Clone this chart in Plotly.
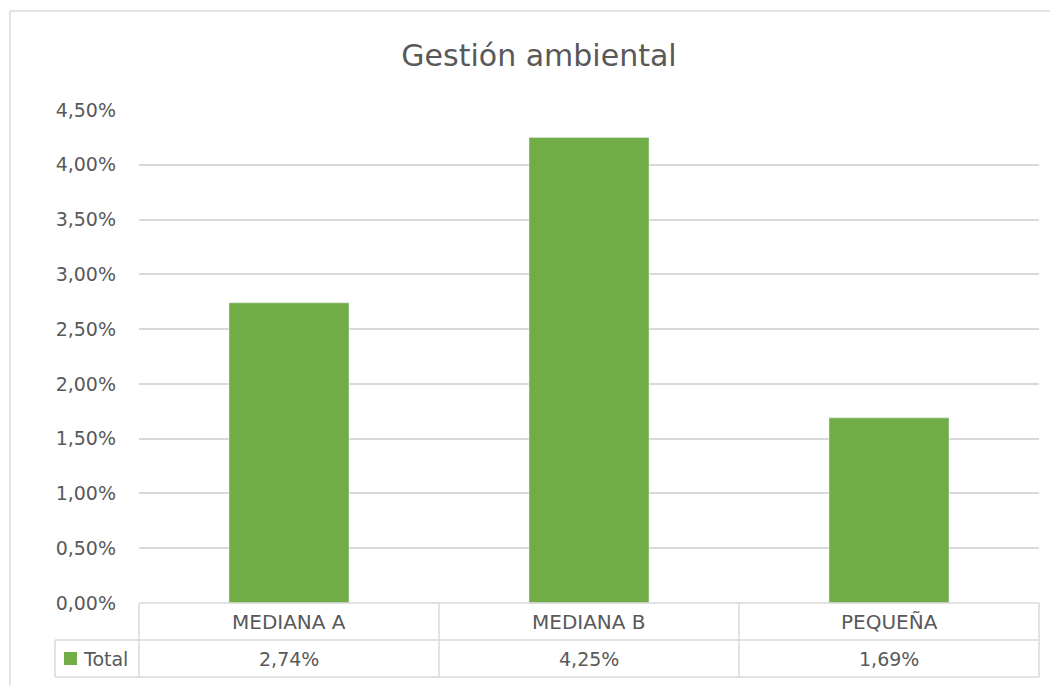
import plotly.graph_objects as go

categories = ["MEDIANA A", "MEDIANA B", "PEQUEÑA"]
values = [2.74, 4.25, 1.69]
series_name = "Total"
title = "Gestión ambiental"
tick_vals = [0, 0.5, 1.0, 1.5, 2.0, 2.5, 3.0, 3.5, 4.0, 4.5]

def fmt(v):
    return f"{v:.2f}".replace(".", ",") + "%"

GREEN = "#70ad47"
GRID = "#d9d9d9"
TXT = "#595959"
FONT = "DejaVu Sans"

OFF = 8  # page body margin
W, H = 1058, 685
# target screen positions of the plot area
SX0, SX1, SY0, SY1 = 139, 1039, 110, 603
L, T = SX0 - OFF, SY0 - OFF
R = W - (SX1 - OFF)
B = H - (SY1 - OFF)
PW, PH = W - L - R, H - T - B

def px_x(x):
    return (x - SX0) / PW

def px_y(y):
    return (SY1 - y) / PH

fig = go.Figure()
fig.add_trace(go.Bar(x=categories, y=values, marker_color=GREEN, width=0.4,
                     name=series_name, showlegend=False))

shapes = []
def line(x0, y0, x1, y1):
    shapes.append(dict(type="line", xref="paper", yref="paper",
                       x0=px_x(x0), y0=px_y(y0), x1=px_x(x1), y1=px_y(y1),
                       line=dict(color=GRID, width=1.5), layer="above"))

# outer frame
line(10, 11, 1070, 11)
line(10, 11, 10, 700)
# data table
line(139, 603, 1039, 603)
line(139, 640, 1039, 640)
line(55, 640, 139, 640)
line(55, 677, 1039, 677)
line(55, 640, 55, 677)
for xv in [139, 439, 739, 1039]:
    line(xv, 603, xv, 677)
# legend key
shapes.append(dict(type="rect", xref="paper", yref="paper",
                   x0=px_x(64), x1=px_x(77), y0=px_y(665), y1=px_y(652),
                   fillcolor=GREEN, line=dict(width=0)))

annotations = []
for c, v in zip(categories, values):
    annotations.append(dict(x=c, xref="x", y=px_y(621.5), yref="paper", text=c,
                            xanchor="center", yanchor="middle",
                            showarrow=False, font=dict(family=FONT, size=20, color=TXT)))
    annotations.append(dict(x=c, xref="x", y=px_y(658.5), yref="paper", text=fmt(v),
                            xanchor="center", yanchor="middle",
                            showarrow=False, font=dict(family=FONT, size=19, color=TXT)))
annotations.append(dict(x=px_x(81), xref="paper", y=px_y(658.5), yref="paper",
                        text=series_name, xanchor="left", yanchor="middle", showarrow=False,
                        font=dict(family=FONT, size=19, color=TXT)))

fig.update_layout(
    width=W, height=H,
    margin=dict(l=L, r=R, t=T, b=B),
    paper_bgcolor="white", plot_bgcolor="white",
    title=dict(text=title, x=px_x(539), xref="paper", y=1 - (55 - OFF) / H, yref="container",
               xanchor="center", yanchor="middle",
               font=dict(family=FONT, size=30, color=TXT)),
    bargap=0.6,
    xaxis=dict(showticklabels=False, showgrid=False, zeroline=False, showline=False,
               range=[-0.5, 2.5]),
    yaxis=dict(range=[0, 4.5], tickvals=tick_vals, ticktext=[fmt(t) for t in tick_vals],
               showgrid=True, gridcolor=GRID, gridwidth=1.5, zeroline=False,
               showline=False, ticklabelstandoff=22,
               tickfont=dict(family=FONT, size=19, color=TXT)),
    shapes=shapes, annotations=annotations,
)

fig.write_html("out.html")
